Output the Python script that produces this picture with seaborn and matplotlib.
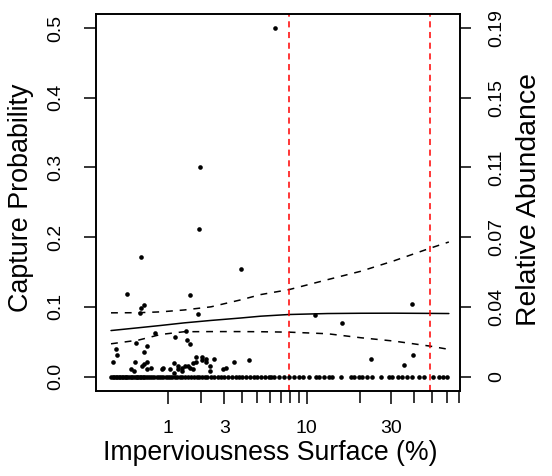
import numpy as np
import seaborn as sns
import matplotlib.pyplot as plt

# points with zero capture probability (x = imperviousness %)
zero_x = [0.0, 0.02, 0.04, 0.06, 0.08, 0.1, 0.12, 0.14, 0.16, 0.18, 0.2, 0.22, 0.25, 0.28,
          0.3, 0.33, 0.35, 0.38, 0.4, 0.43, 0.45, 0.48, 0.5, 0.54, 0.58, 0.62, 0.66, 0.7,
          0.75, 0.8, 0.85, 0.9, 0.95, 1.0, 1.06, 1.12, 1.18, 1.25, 1.32, 1.4, 1.48, 1.56,
          1.65, 1.75, 1.85, 1.95, 2.05, 2.15, 2.25, 2.4, 2.55, 2.7, 2.85, 3.0, 3.2, 3.4,
          3.6, 3.8, 4.0, 4.25, 4.5, 4.75, 5.0, 5.3, 5.6, 5.9, 6.1, 6.37, 6.83, 7.33, 7.85,
          8.41, 9.05, 9.56, 10.31, 11.27, 11.78, 12.59, 13.44, 14.06, 15.67, 17.84, 18.61,
          19.84, 20.73, 22.1, 23.5, 26.2, 29.1, 30.4, 32.6, 34.5, 36.7, 39.1, 42.5, 45.2,
          50.8, 54.5, 57.6, 60.5]

# points with positive capture probability
pos_x = [6.43, 1.98, 1.93, 0.44, 3.92, 0.21, 1.62, 0.49, 0.44, 0.42, 1.92, 38.7, 11.1, 16.0,
         23.1, 35.1, 39.4, 4.39, 3.52, 3.11, 2.95, 2.54, 2.36, 2.36, 2.22, 2.22, 2.03, 2.03,
         1.83, 1.83, 1.74, 1.74, 1.64, 1.55, 1.52, 1.62, 1.58, 1.48, 1.40, 1.40, 1.28, 1.28,
         1.17, 1.18, 1.07, 1.17, 0.88, 0.86, 0.71, 0.64, 0.56, 0.56, 0.50, 0.46, 0.55, 0.49,
         0.36, 0.34, 0.33, 0.28, 0.08, 0.06, 0.03]
pos_y = [0.500, 0.300, 0.212, 0.171, 0.154, 0.1186, 0.1166, 0.103, 0.0986, 0.0914, 0.090, 0.104,
         0.0886, 0.077, 0.0247, 0.0166, 0.0304, 0.0237, 0.0214, 0.0128, 0.0114, 0.0257, 0.015,
         0.008, 0.0257, 0.021, 0.0286, 0.0237, 0.0286, 0.0214, 0.019, 0.0114, 0.046, 0.053,
         0.065, 0.0128, 0.015, 0.015, 0.012, 0.008, 0.015, 0.011, 0.019, 0.057, 0.011, 0.0057,
         0.012, 0.011, 0.063, 0.0128, 0.0114, 0.0214, 0.0185, 0.015, 0.044, 0.0357, 0.0486,
         0.0214, 0.0086, 0.0114, 0.031, 0.039, 0.021]

# fitted curve and confidence band
curve_x = [0, 0.4, 0.84, 1.45, 2.4, 3.9, 5.26, 7.85, 13.2, 20.3, 31.0, 48.7, 61.7]
fit_y = [0.066, 0.070, 0.0733, 0.077, 0.0805, 0.084, 0.0866, 0.089, 0.0904, 0.0908, 0.0909, 0.0906, 0.0904]
upper_y = [0.0914, 0.0916, 0.0928, 0.0955, 0.100, 0.110, 0.1176, 0.1247, 0.139, 0.151, 0.166, 0.184, 0.193]
lower_y = [0.047, 0.0523, 0.0604, 0.0643, 0.0645, 0.0645, 0.0643, 0.0637, 0.0614, 0.0557, 0.0509, 0.0437, 0.039]

thresholds = [7.85, 48.7]

x_ticks = [1, 3, 10, 30]
x_minor = [2, 4, 5, 6, 7, 8, 9, 20, 40, 50, 60, 70]
y_ticks = [0.0, 0.1, 0.2, 0.3, 0.4, 0.5]
y_labels = ['0.0', '0.1', '0.2', '0.3', '0.4', '0.5']
abund_labels = ['0', '0.04', '0.07', '0.11', '0.15', '0.19']

sns.set_style("ticks")
plt.rcParams['font.family'] = ['Liberation Sans', 'DejaVu Sans']
plt.rcParams['text.color'] = 'black'
plt.rcParams['axes.labelcolor'] = 'black'
plt.rcParams['xtick.color'] = 'black'
plt.rcParams['ytick.color'] = 'black'

fig = plt.figure(figsize=(5.52, 4.76), dpi=100)
ax = fig.add_axes([0.1739, 0.1796, 0.6603, 0.791])

fwd = lambda v: np.log10(np.asarray(v, dtype=float) + 1)
inv = lambda v: 10 ** np.asarray(v, dtype=float) - 1
ax.set_xscale('function', functions=(fwd, inv))

all_x = zero_x + pos_x
all_y = [0.0] * len(zero_x) + pos_y
sns.scatterplot(x=all_x, y=all_y, color='black', s=11, linewidth=0, ax=ax, zorder=3)

sns.lineplot(x=curve_x, y=fit_y, color='black', linewidth=1.1, estimator=None, sort=False, ax=ax)
sns.lineplot(x=curve_x, y=upper_y, color='black', linewidth=1.1, linestyle=(0, (4.5, 4.5)),
             estimator=None, sort=False, ax=ax)
sns.lineplot(x=curve_x, y=lower_y, color='black', linewidth=1.1, linestyle=(0, (4.5, 4.5)),
             estimator=None, sort=False, ax=ax)
for t in thresholds:
    ax.axvline(t, color='red', linewidth=1.1, linestyle=(0, (4, 3)))

ax.set_xlim(-0.168, 71.3)
ax.set_ylim(-0.02, 0.52)
ax.set_xticks(x_ticks)
ax.set_xticklabels([str(v) for v in x_ticks])
ax.set_xticks(x_minor, minor=True)
ax.set_yticks(y_ticks)
ax.set_yticklabels(y_labels, rotation=90, va='center')

ax.tick_params(axis='x', which='major', length=9.5, width=1.1, labelsize=14, pad=12)
ax.tick_params(axis='x', which='minor', length=8.4, width=1.1)
ax.tick_params(axis='y', length=9, width=1.1, labelsize=14, pad=14)

for s in ax.spines.values():
    s.set_linewidth(1.2)
    s.set_color('black')

ax.set_xlabel('Imperviousness Surface (%)', fontsize=19.2)
ax.xaxis.set_label_coords(0.477, -0.132)
ax.set_ylabel('Capture Probability', fontsize=19.4)
ax.yaxis.set_label_coords(-0.171, 0.512)

ax2 = ax.twinx()
ax2.set_ylim(ax.get_ylim())
ax2.set_yticks(y_ticks)
ax2.set_yticklabels(abund_labels, rotation=90, va='center')
ax2.tick_params(axis='y', length=8, width=1.1, labelsize=14, pad=12)
for s in ax2.spines.values():
    s.set_linewidth(1.2)
    s.set_color('black')
ax2.set_ylabel('Relative Abundance', fontsize=20.4)
ax2.yaxis.set_label_coords(1.152, 0.507)

fig.savefig('out.png', dpi=100)
